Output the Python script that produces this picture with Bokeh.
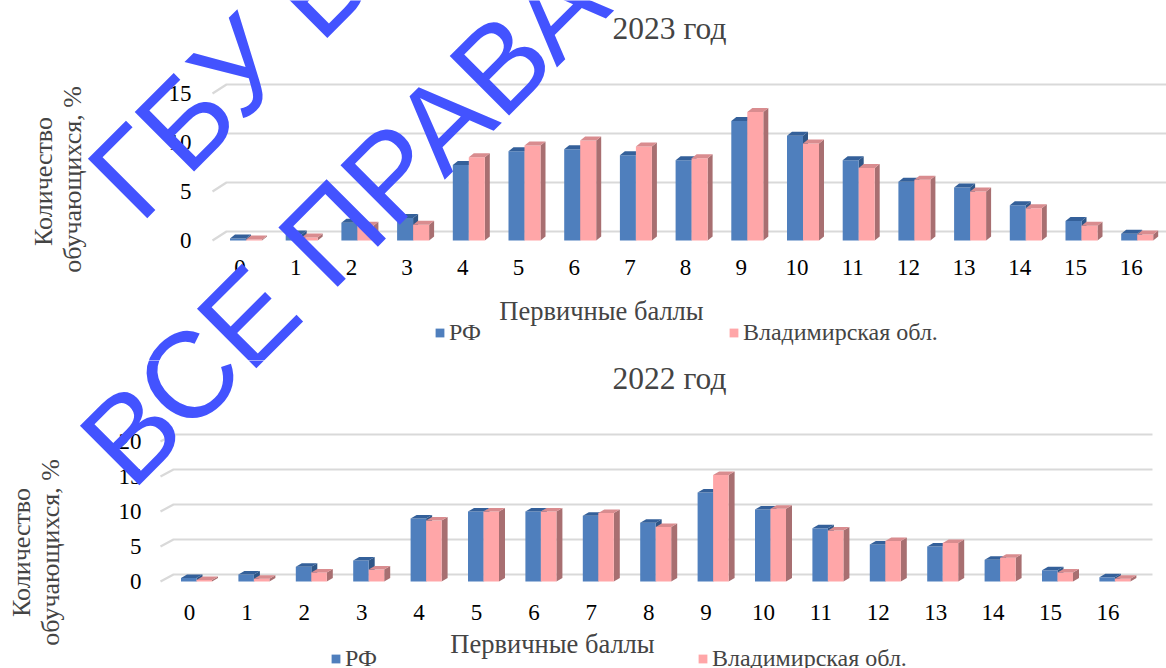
import numpy as np
from bokeh.plotting import figure
from bokeh.layouts import column
from bokeh.models import Label, Legend, LegendItem
from bokeh.core.properties import value
from bokeh.embed import file_html
from bokeh.resources import INLINE

# ---- data -------------------------------------------------------------
scores = list(range(17))
series_names = ["РФ", "Владимирская обл."]

rf_2023 = [0.2, 0.6, 1.8, 2.3, 7.7, 9.1, 9.3, 8.7, 8.2, 12.2, 10.7, 8.2, 6.0, 5.4, 3.6, 2.0, 0.7]
vo_2023 = [0.1, 0.3, 1.5, 1.6, 8.5, 9.7, 10.2, 9.6, 8.4, 13.1, 9.9, 7.4, 6.2, 5.0, 3.3, 1.5, 0.6]

rf_2022 = [0.5, 1.0, 2.1, 3.0, 9.0, 10.0, 10.0, 9.4, 8.4, 12.7, 10.3, 7.6, 5.3, 5.0, 3.1, 1.6, 0.6]
vo_2022 = [0.2, 0.4, 1.3, 1.7, 8.7, 10.0, 10.0, 9.8, 7.8, 15.2, 10.4, 7.3, 5.8, 5.5, 3.4, 1.3, 0.4]

y_ticks_2023 = [0, 5, 10, 15]
y_ticks_2022 = [0, 5, 10, 15, 20]

# ---- styling ----------------------------------------------------------
SERIF = "'Liberation Serif', 'Times New Roman', serif"
SANS = "'Liberation Sans', Arial, sans-serif"
RF_FRONT, RF_TOP, RF_SIDE = "#4F7FBD", "#34609A", "#2F5687"
VO_FRONT, VO_TOP, VO_SIDE = "#FFA6A8", "#D98C8F", "#A86F71"
GRID = "#D9D9D9"
MARK = "#4353FF"
PAGE_W = 1166

# watermark lines and their start points in page pixels
MARK_LINES = [("ГБУ ВО", (110, 195)), ("ВСЕ ПРАВА ЗАЩИЩЕНЫ", (102, 462))]


def panel(title, rf, vo, yticks, g, top_offset):
    h = g["height"]
    x0, xs_, y0, ys_ = g["x0"], g["xstep"], g["y0"], g["ystep"]

    # page pixel -> data coordinates of this panel
    dx = lambda sx: (sx - x0) / xs_
    dy = lambda sy: (y0 - (sy - top_offset)) / ys_

    p = figure(width=PAGE_W, height=h,
               x_range=(dx(0), dx(PAGE_W)), y_range=(dy(top_offset + h), dy(top_offset)),
               output_backend="svg", toolbar_location=None,
               x_axis_location=None, y_axis_location=None, min_border=0)
    p.outline_line_color = None
    p.grid.visible = False
    p.background_fill_color = "white"
    p.border_fill_color = "white"

    px = lambda v: v / xs_
    py = lambda v: v / ys_

    # back wall gridlines with the short perspective stub on the left
    wx0, wx1 = dx(g["wall_x"][0]), dx(g["wall_x"][1])
    wdy = py(g["wall_dy"])
    gx_end = dx(g["grid_end"])
    p.multi_line(xs=[[wx0, wx1, gx_end] for _ in yticks],
                 ys=[[t, t + wdy, t + wdy] for t in yticks],
                 line_color=GRID, line_width=2.2)

    # pseudo-3D clustered columns
    off, w = px(g["bar_off"]), px(g["bar_w"])
    ddx, ddy = px(g["depth"][0]), py(g["depth"][1])
    renderers = []
    for k, (vals, cf, ct, cs) in enumerate([(rf, RF_FRONT, RF_TOP, RF_SIDE),
                                            (vo, VO_FRONT, VO_TOP, VO_SIDE)]):
        left = [c + off - w + k * w for c in scores]
        right = [l + w for l in left]
        side_x = [[r, r + ddx, r + ddx, r] for r in right]
        side_y = [[0, ddy, v + ddy, v] for v in vals]
        top_x = [[l, r, r + ddx, l + ddx] for l, r in zip(left, right)]
        top_y = [[v, v, v + ddy, v + ddy] for v in vals]
        p.patches(side_x, side_y, fill_color=cs, line_color=None)
        r = p.quad(left=left, right=right, bottom=0, top=vals,
                   fill_color=cf, line_color=None)
        p.patches(top_x, top_y, fill_color=ct, line_color=None)
        renderers.append(r)

    # tick labels
    p.text(x=scores, y=[dy(g["xlab_y"])] * len(scores), text=[str(s) for s in scores],
           text_font=value(SERIF), text_font_size="23px", text_color="black",
           text_align="center", text_baseline="middle")
    p.text(x=[dx(g["ylab_x"])] * len(yticks), y=yticks, text=[str(t) for t in yticks],
           text_font=value(SERIF), text_font_size="23px", text_color="black",
           text_align="right", text_baseline="middle")

    def at(sx, sy):
        return dict(x=dx(sx), y=dy(sy))

    p.add_layout(Label(text=title, text_font=SERIF, text_font_size="31.5px",
                       text_align="center", text_baseline="middle", **at(*g["title"])))
    p.add_layout(Label(text="Первичные баллы", text_font=SERIF, text_font_size="26.5px",
                       text_align="center", text_baseline="middle", **at(*g["xtitle"])))
    for txt, pos in zip(["Количество", "обучающихся, %"], g["ytitle"]):
        p.add_layout(Label(text=txt, text_font=SERIF, text_font_size="26px", angle=np.pi / 2,
                           text_align="center", text_baseline="middle", **at(*pos)))

    lx, ly = g["legend"]
    legend = Legend(items=[LegendItem(label=series_names[0], renderers=[renderers[0]]),
                           LegendItem(label=series_names[1], renderers=[renderers[1]])],
                    orientation="horizontal",
                    location=(lx, h - (ly - top_offset) - 12),
                    spacing=g["legend_spacing"], padding=0, margin=0,
                    glyph_width=11, glyph_height=11, label_standoff=4, label_height=24,
                    label_text_font=SERIF, label_text_font_size="24px",
                    border_line_color=None, background_fill_alpha=0)
    p.add_layout(legend, "center")

    # watermark, placed in page pixels so that it runs across both panels
    for txt, (sx, sy) in MARK_LINES:
        p.add_layout(Label(text=txt, text_font=SANS, text_font_size="122px",
                           text_color=MARK, angle=np.pi / 4, text_align="left",
                           text_baseline="alphabetic", **at(sx, sy)))
    return p


geom_2023 = dict(height=360, x0=239.5, xstep=55.7, y0=240, ystep=9.8,
                 bar_off=6, bar_w=16, depth=(5, 4),
                 wall_x=(212, 226), wall_dy=9, grid_end=1166,
                 xlab_y=267, ylab_x=191,
                 title=(669, 28), xtitle=(601, 310),
                 ytitle=[(43, 181), (72, 179)],
                 legend=(434, 334), legend_spacing=247)

geom_2022 = dict(height=308, x0=189, xstep=57.4, y0=221, ystep=7.0,
                 bar_off=7, bar_w=15.5, depth=(6, 3.5),
                 wall_x=(160, 173), wall_dy=7, grid_end=1152,
                 xlab_y=612, ylab_x=141,
                 title=(669, 378), xtitle=(552, 643),
                 ytitle=[(21, 552), (50, 552)],
                 legend=(330, 660), legend_spacing=320)

p1 = panel("2023 год", rf_2023, vo_2023, y_ticks_2023, geom_2023, 0)
p2 = panel("2022 год", rf_2022, vo_2022, y_ticks_2022, geom_2022, 360)

page = column(p1, p2, spacing=0)
open("out.html", "w").write(file_html(page, INLINE))
